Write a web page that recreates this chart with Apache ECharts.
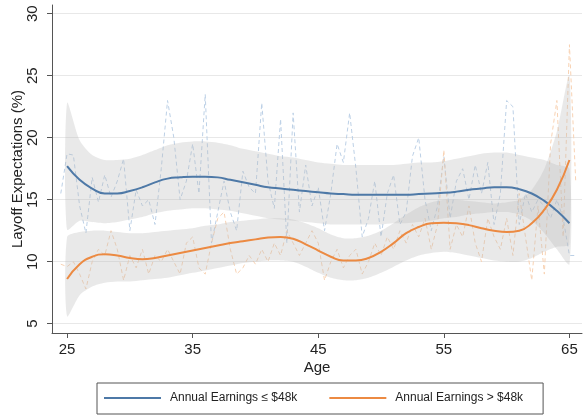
<!DOCTYPE html>
<html lang="en">
<head>
    <meta charset="UTF-8">
    <title>Layoff Expectations by Age</title>
    <script src="https://cdn.jsdelivr.net/npm/echarts@6/dist/echarts.min.js"></script>
    <style>
        html, body { margin: 0; padding: 0; background: #fff; }
        #main { width: 584px; height: 415px; }
    </style>
</head>
<body>
<div id="main"></div>
<script>
    // ages for the raw (dashed) series
    var rawAges = [24.5, 25, 25.5, 26, 26.5, 27, 27.5, 28, 28.5, 29, 29.5, 30, 30.5, 31, 31.5, 32, 32.5, 33, 33.5, 34, 34.5,
        35, 35.5, 36, 36.5, 37, 37.5, 38, 38.5, 39, 39.5, 40, 40.5, 41, 41.5, 42, 42.5, 43, 43.5, 44, 44.5,
        45, 45.5, 46, 46.5, 47, 47.5, 48, 48.5, 49, 49.5, 50, 50.5, 51, 51.5, 52, 52.5, 53, 53.5, 54, 54.5,
        55, 55.5, 56, 56.5, 57, 57.5, 58, 58.5, 59, 59.5, 60, 60.5, 61, 61.5, 62, 62.5, 63, 63.5, 64, 64.5, 65, 65.5];
    var rawLow = [15.5, 18.7, 18.6, 14.5, 12.3, 16.8, 14.8, 17.0, 15.2, 16.5, 18.3, 12.5, 15.8, 14.5, 15.0, 13.0, 17.5, 23.0, 20.0, 15.0, 16.5,
        19.5, 15.5, 23.5, 11.5, 14.0, 16.5, 14.0, 12.5, 17.3, 16.0, 15.5, 22.8, 16.5, 14.3, 21.5, 11.5, 22.0, 14.0, 17.8, 14.5,
        16.0, 12.5, 15.5, 19.5, 18.0, 22.0, 17.5, 12.0, 13.5, 16.5, 12.0, 15.5, 17.0, 13.0, 14.0, 18.5, 20.0, 15.0, 12.5, 14.5,
        18.5, 13.5, 16.5, 17.5, 15.0, 17.8, 15.5, 18.0, 13.0, 15.5, 23.0, 22.5, 13.0, 15.5, 14.0, 15.0, 14.5, 13.5, 15.0, 13.5, 10.5, 10.5];
    var rawHigh = [9.8, 9.6, 10.0, 9.0, 7.8, 10.0, 11.0, 10.5, 12.5, 11.0, 8.5, 10.5, 9.5, 11.0, 9.0, 10.5, 10.0, 11.0, 10.0, 9.0, 11.5,
        12.0, 9.5, 9.0, 11.5, 13.5, 14.0, 11.0, 9.0, 9.5, 10.5, 9.8, 11.0, 10.0, 11.5, 10.5, 12.5, 11.5, 10.5, 11.5, 12.5,
        11.5, 8.5, 10.0, 11.0, 9.5, 10.5, 11.0, 9.0, 10.0, 11.5, 10.5, 12.0, 11.0, 12.5, 11.5, 13.0, 12.0, 13.5, 11.0, 13.0,
        19.0, 11.0, 13.0, 12.0, 14.5, 11.5, 10.0, 13.5, 12.0, 11.0, 13.5, 10.5, 15.5, 12.0, 8.5, 14.5, 9.0, 19.5, 23.0, 12.0, 27.5, 16.5];

    // fitted curves and confidence bands
    var fitAges = [25, 26, 27, 28, 29, 30, 31, 32, 33, 34, 35, 36, 37, 38, 39, 40, 41, 42, 43, 44, 45,
        46, 47, 48, 49, 50, 51, 52, 53, 54, 55, 56, 57, 58, 59, 60, 61, 62, 63, 64, 65];
    var fitLow = [17.7, 16.6, 15.9, 15.5, 15.5, 15.7, 16.0, 16.4, 16.7, 16.8, 16.85, 16.85, 16.8, 16.6, 16.4, 16.2, 16.0, 15.9, 15.8, 15.7, 15.6,
        15.5, 15.45, 15.4, 15.4, 15.4, 15.4, 15.4, 15.45, 15.5, 15.55, 15.65, 15.8, 15.9, 16.0, 16.0, 15.85, 15.5, 14.9, 14.1, 13.1];
    var lowUpper = [22.8, 19.8, 18.6, 18.2, 18.2, 18.3, 18.6, 19.0, 19.4, 19.6, 19.7, 19.7, 19.6, 19.4, 19.1, 18.9, 18.7, 18.5, 18.4, 18.2, 18.0,
        17.9, 17.8, 17.8, 17.8, 17.8, 17.8, 17.9, 18.0, 18.0, 18.1, 18.3, 18.5, 18.7, 18.8, 18.8, 18.6, 18.4, 18.2, 17.8, 17.5];
    var lowLower = [12.6, 13.3, 13.2, 13.1, 13.2, 13.4, 13.6, 13.9, 14.1, 14.2, 14.3, 14.3, 14.2, 14.1, 13.9, 13.7, 13.5, 13.4, 13.3, 13.2, 13.1,
        13.0, 13.0, 13.0, 13.0, 13.0, 13.1, 13.1, 13.2, 13.3, 13.5, 13.6, 13.8, 13.9, 14.0, 14.0, 13.8, 13.3, 12.3, 11.0, 9.8];
    var fitHigh = [8.6, 9.8, 10.4, 10.6, 10.5, 10.3, 10.2, 10.3, 10.5, 10.7, 10.9, 11.1, 11.3, 11.5, 11.65, 11.8, 11.95, 12.0, 11.85, 11.4, 10.9,
        10.4, 10.1, 10.1, 10.3, 10.8, 11.5, 12.3, 12.8, 13.1, 13.15, 13.1, 12.95, 12.7, 12.5, 12.4, 12.5, 13.1, 14.2, 15.8, 18.2];
    var highUpper = [12.0, 12.4, 12.5, 12.5, 12.4, 12.3, 12.3, 12.4, 12.5, 12.6, 12.7, 12.9, 13.0, 13.2, 13.3, 13.4, 13.5, 13.5, 13.4, 13.1, 12.7,
        12.2, 11.9, 11.9, 12.1, 12.5, 13.1, 13.8, 14.4, 14.8, 15.0, 15.0, 14.9, 14.8, 14.7, 14.8, 15.0, 15.8, 17.5, 20.5, 25.0];
    var highLower = [5.6, 7.3, 8.0, 8.3, 8.4, 8.4, 8.5, 8.6, 8.7, 8.9, 9.1, 9.3, 9.5, 9.7, 9.9, 10.0, 10.1, 10.1, 10.0, 9.6, 9.1,
        8.7, 8.5, 8.5, 8.7, 9.1, 9.6, 10.1, 10.5, 10.7, 10.8, 10.7, 10.5, 10.3, 10.1, 10.0, 10.0, 10.3, 10.8, 11.2, 11.4];

    var ageTicks = [25, 35, 45, 55, 65];
    var pctTicks = [5, 10, 15, 20, 25, 30];
    var seriesNames = ['Annual Earnings \u2264 $48k', 'Annual Earnings > $48k'];

    var font = 'Liberation Sans, Arial, Helvetica, sans-serif';

    function pairs(xs, ys) {
        return xs.map(function (x, i) { return [x, ys[i]]; });
    }

    // confidence band: one polygon (upper edge forward, lower edge back) through the axes' scales
    function band(lo, hi) {
        return {
            type: 'custom', silent: true, z: 2,
            data: fitAges.map(function (x, i) { return [x, lo[i], hi[i]]; }),
            encode: {x: 0, y: [1, 2]},
            renderItem: function (params, api) {
                if (params.dataIndex !== 0) return;
                var pts = [];
                fitAges.forEach(function (x, i) { pts.push(api.coord([x, hi[i]])); });
                for (var i = fitAges.length - 1; i >= 0; i--) pts.push(api.coord([fitAges[i], lo[i]]));
                return {
                    type: 'polygon',
                    shape: {points: pts, smooth: 0.25},
                    style: {fill: '#bdbdbd', opacity: 0.33}
                };
            }
        };
    }

    var chart = echarts.init(document.getElementById('main'));
    var option = {
        animation: false,
        grid: {left: 52, right: 2, top: 5, bottom: 82, outerBoundsMode: 'none', containLabel: false},
        legend: {
            data: seriesNames,
            left: 97, top: 383,
            padding: [9, 20, 10, 7],
            itemGap: 32,
            itemWidth: 57, itemHeight: 2,
            icon: 'rect',
            borderColor: '#555', borderWidth: 1,
            textStyle: {fontFamily: font, fontSize: 12, color: '#222', padding: [0, 0, 0, 4]}
        },
        xAxis: {
            type: 'value', min: 23.8, max: 66,
            name: 'Age', nameLocation: 'middle', nameGap: 27, nameMoveOverlap: false,
            nameTextStyle: {fontFamily: font, fontSize: 15, color: '#222'},
            axisLine: {lineStyle: {color: '#555', width: 1}},
            axisTick: {show: true, length: 5, customValues: ageTicks, lineStyle: {color: '#555'}},
            axisLabel: {customValues: ageTicks, fontFamily: font, fontSize: 15, color: '#222', margin: 9},
            splitLine: {show: false}
        },
        yAxis: {
            type: 'value', min: 4.25, max: 30.7,
            name: 'Layoff Expectations (%)', nameLocation: 'middle', nameGap: 27, nameMoveOverlap: false,
            nameTextStyle: {fontFamily: font, fontSize: 15, color: '#222'},
            axisLine: {show: true, lineStyle: {color: '#555', width: 1}},
            axisTick: {show: true, length: 5, customValues: pctTicks, lineStyle: {color: '#555'}},
            axisLabel: {customValues: pctTicks, rotate: 90, fontFamily: font, fontSize: 15, color: '#222', margin: 12},
            splitLine: {show: true, lineStyle: {color: '#e8e8e8', width: 1}}
        },
        series: [{
            type: 'line', data: pairs(rawAges, rawLow), symbol: 'none', silent: true, z: 1,
            lineStyle: {color: '#bcd0e6', width: 1, type: [4, 3]}
        }, {
            type: 'line', data: pairs(rawAges, rawHigh), symbol: 'none', silent: true, z: 1,
            lineStyle: {color: '#f8d2b3', width: 1, type: [4, 3]}
        },
            band(lowLower, lowUpper),
            band(highLower, highUpper),
            {
                name: seriesNames[0], type: 'line', data: pairs(fitAges, fitLow), smooth: true,
                symbol: 'none', z: 5, color: '#4e79a7', lineStyle: {width: 2, color: '#4e79a7'}
            }, {
                name: seriesNames[1], type: 'line', data: pairs(fitAges, fitHigh), smooth: true,
                symbol: 'none', z: 5, color: '#ec8a42', lineStyle: {width: 2, color: '#ec8a42'}
            }]
    };
    chart.setOption(option);
</script>
</body>
</html>
